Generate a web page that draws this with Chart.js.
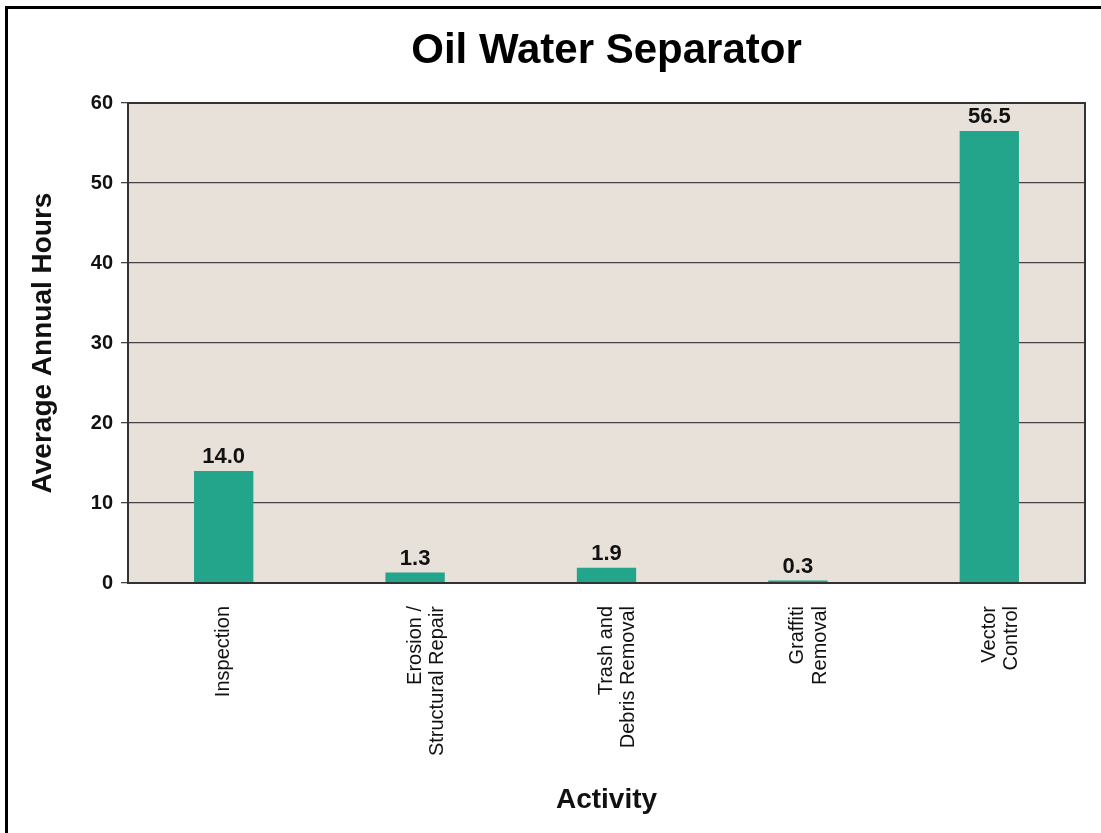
<!DOCTYPE html>
<html>
<head>
<meta charset="utf-8">
<title>Oil Water Separator</title>
<script src="https://cdn.jsdelivr.net/npm/chart.js@4.4.1/dist/chart.umd.min.js"></script>
<style>
  html, body { margin: 0; padding: 0; background: #fff; overflow: hidden; }
  #wrap { position: relative; width: 1101px; height: 833px; }
  #frame {
    position: absolute; left: 5px; top: 6px; width: 1200px; height: 900px;
    border-left: 3px solid #000; border-top: 3px solid #000; pointer-events: none;
  }
  canvas { position: absolute; left: 0; top: 0; }
</style>
</head>
<body>
<div id="wrap">
  <canvas id="barChart" width="1101" height="833"></canvas>
  <div id="frame"></div>
</div>
<script>
var activities = ["Inspection", ["Erosion /", "Structural Repair"], ["Trash and", "Debris Removal"], ["Graffiti", "Removal"], ["Vector", "Control"]];
var hours = [14.0, 1.3, 1.9, 0.3, 56.5];
var yTicks = [0, 10, 20, 30, 40, 50, 60];
var chartTitle = "Oil Water Separator";

var FONT = "'Liberation Sans', Arial, Helvetica, sans-serif";

// beige plot background plus the closed frame around the plot
var plotFrame = {
    id: 'plotFrame',
    beforeDraw: function (chart) {
        var a = chart.chartArea, ctx = chart.ctx;
        ctx.save();
        ctx.fillStyle = '#e7e1da';
        ctx.fillRect(a.left, a.top, a.right - a.left, a.bottom - a.top);
        ctx.restore();
    },
    afterDatasetsDraw: function (chart) {
        var a = chart.chartArea, ctx = chart.ctx;
        ctx.save();
        ctx.strokeStyle = '#333';
        ctx.lineWidth = 2;
        ctx.strokeRect(a.left, a.top, a.right - a.left, a.bottom - a.top);
        ctx.restore();
    }
};

// title centred over the plot rather than the whole canvas
var plotTitle = {
    id: 'plotTitle',
    afterDraw: function (chart) {
        var a = chart.chartArea, ctx = chart.ctx;
        ctx.save();
        ctx.font = 'bold 42px ' + FONT;
        ctx.fillStyle = '#000';
        ctx.textAlign = 'center';
        ctx.textBaseline = 'alphabetic';
        ctx.fillText(chartTitle, (a.left + a.right) / 2, 63);
        ctx.restore();
    }
};

// value printed above each bar
var barValues = {
    id: 'barValues',
    afterDatasetsDraw: function (chart) {
        var ctx = chart.ctx;
        var meta = chart.getDatasetMeta(0);
        ctx.save();
        ctx.font = 'bold 22px ' + FONT;
        ctx.fillStyle = '#111';
        ctx.textAlign = 'center';
        ctx.textBaseline = 'bottom';
        meta.data.forEach(function (bar, i) {
            ctx.fillText(hours[i].toFixed(1), bar.x, bar.y - 3);
        });
        ctx.restore();
    }
};

var ctx = document.getElementById("barChart").getContext("2d");
new Chart(ctx, {
    type: 'bar',
    data: {
        labels: activities,
        datasets: [{
            data: hours,
            backgroundColor: '#23a58c',
            borderWidth: 0,
            categoryPercentage: 1,
            barPercentage: 0.31
        }]
    },
    options: {
        responsive: false,
        animation: false,
        layout: { padding: { left: 20, right: 16, top: 103, bottom: 0 } },
        plugins: {
            legend: { display: false },
            tooltip: { enabled: false },
            title: { display: false }
        },
        scales: {
            x: {
                grid: { display: false },
                border: { display: false },
                ticks: {
                    color: '#111',
                    font: { family: FONT, size: 20, lineHeight: 1.12 },
                    minRotation: 90,
                    maxRotation: 90,
                    autoSkip: false,
                    padding: 15
                },
                title: {
                    display: true,
                    text: 'Activity',
                    color: '#111',
                    font: { family: FONT, size: 28, weight: 'bold' },
                    padding: { top: 0, bottom: 16 }
                },
                afterFit: function (scale) { scale.height = 833 - 583; }
            },
            y: {
                min: 0,
                max: 60,
                afterBuildTicks: function (scale) {
                    scale.ticks = yTicks.map(function (v) { return { value: v }; });
                },
                grid: { color: '#444', lineWidth: 1.3, tickLength: 7 },
                border: { display: false },
                ticks: {
                    color: '#111',
                    font: { family: FONT, size: 20, weight: 'bold' },
                    padding: 8
                },
                title: {
                    display: true,
                    text: 'Average Annual Hours',
                    color: '#111',
                    font: { family: FONT, size: 28, weight: 'bold' },
                    padding: { top: 6, bottom: 0 }
                },
                afterFit: function (scale) { scale.width = 128 - 20; }
            }
        }
    },
    plugins: [plotFrame, barValues, plotTitle]
});
</script>
</body>
</html>
